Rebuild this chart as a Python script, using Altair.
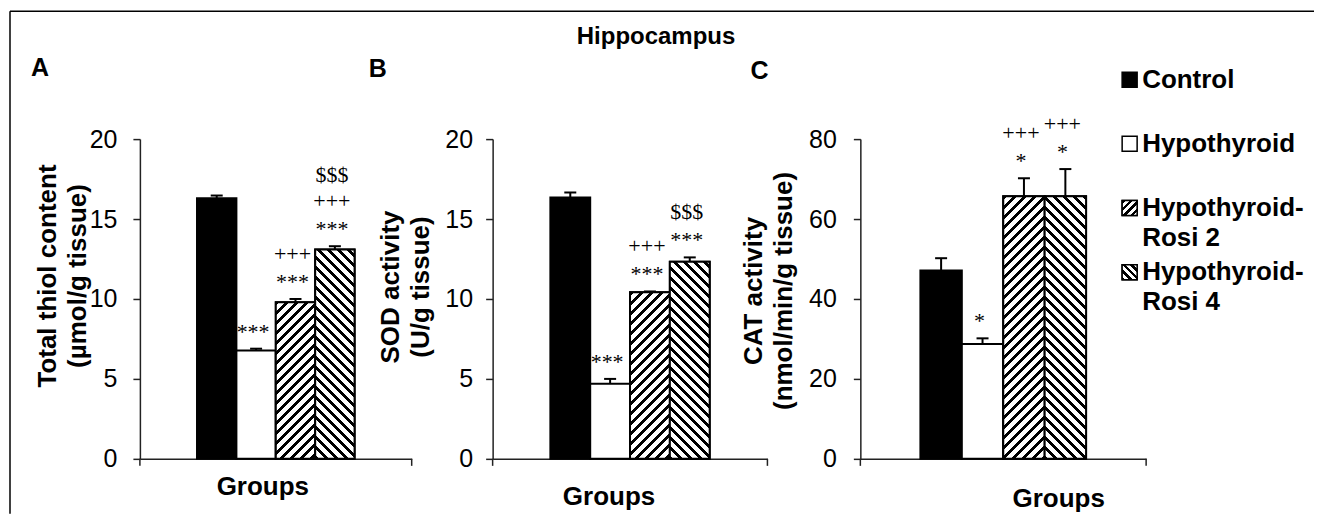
import altair as alt
import pandas as pd

# ---------------- data ----------------
groups = ["Control", "Hypothyroid", "Hypothyroid-Rosi 2", "Hypothyroid-Rosi 4"]

thiol_mean = [16.3, 6.77, 9.8, 13.1]
thiol_sem = [0.17, 0.12, 0.2, 0.2]
thiol_sig1 = ["", "***", "***", "***"]
thiol_sig2 = ["", "", "+++", "+++"]
thiol_sig3 = ["", "", "", "$$$"]

sod_mean = [16.35, 4.69, 10.42, 12.33]
sod_sem = [0.31, 0.31, 0.05, 0.27]
sod_sig1 = ["", "***", "***", "***"]
sod_sig2 = ["", "", "+++", "$$$"]
sod_sig3 = ["", "", "", ""]

cat_mean = [47.1, 28.75, 65.7, 65.7]
cat_sem = [3.1, 1.4, 4.5, 6.8]
cat_sig1 = ["", "*", "*", "*"]
cat_sig2 = ["", "", "+++", "+++"]
cat_sig3 = ["", "", "", ""]

ticks_thiol = [0, 5, 10, 15, 20]
ticks_sod = [0, 5, 10, 15, 20]
ticks_cat = [0, 20, 40, 60, 80]

legend_line1 = ["Control", "Hypothyroid", "Hypothyroid-", "Hypothyroid-"]
legend_line2 = ["", "", "Rosi 2", "Rosi 4"]

# ---------------- style ----------------
SANS = "Liberation Sans"
SERIF = "Liberation Serif"
PH = 320
PAD_OUTER = 0.45
FILLS = ["black", "white", "white", "white"]
ANN_DY = [-10, -38, -64]
X_DOMAIN = ["_left"] + groups + ["_right"]   # empty slots keep the bars centred


def hatch(w, h, direction, period=10.0, black=4.0):
    L = w + h
    s = L / (w * w + h * h)
    if direction == "/":
        x1, y1, x2, y2 = 0.0, 0.0, s * w, s * h
    else:
        x1, y1, x2, y2 = 0.0, 1.0, s * w, 1.0 - s * h
    stops = []
    pos = 0.0
    while pos < L - 1e-9:
        a = pos / L
        b = min((pos + black) / L, 1.0)
        c = min((pos + period) / L, 1.0)
        stops += [
            alt.GradientStop(color="black", offset=a),
            alt.GradientStop(color="black", offset=b),
            alt.GradientStop(color="white", offset=b),
            alt.GradientStop(color="white", offset=c),
        ]
        pos += period
    return alt.LinearGradient(gradient="linear", stops=stops, x1=x1, y1=y1, x2=x2, y2=y2)


deco = alt.Chart(pd.DataFrame({"k": [0]}))


def letter(txt, x, y, size=25):
    return deco.mark_text(text=txt, font=SANS, fontSize=size, fontWeight="bold",
                          color="black", align="center", baseline="middle").encode(
        x=alt.value(x), y=alt.value(y))


def panel(mean, sem, sigs, ticks, ytitle, pw, ytitle_xy, groups_xy, label_pad):
    ymax = ticks[-1]
    df = pd.DataFrame({
        "group": groups, "mean": mean, "sem": sem,
        "top": [m + e for m, e in zip(mean, sem)],
        "s1": sigs[0], "s2": sigs[1], "s3": sigs[2],
    })
    base = alt.Chart(df)
    xscale = alt.Scale(domain=X_DOMAIN, paddingInner=0, paddingOuter=PAD_OUTER)
    yscale = alt.Scale(domain=[0, ymax], nice=False)
    x_axis = alt.Axis(title="Groups", labels=False, ticks=False,
                      titleX=groups_xy[0], titleY=groups_xy[1],
                      titleBaseline="middle", titleAlign="center",
                      titleFontSize=26)
    y_axis = alt.Axis(values=ticks, title=ytitle, grid=False,
                      titleX=ytitle_xy[0], titleY=ytitle_xy[1],
                      titleBaseline="alphabetic", titleAlign="center",
                      titleLineHeight=30, titleFontSize=26,
                      labelPadding=label_pad)
    x = alt.X("group:N", sort=X_DOMAIN, scale=xscale, axis=x_axis)

    def y(field):
        return alt.Y(f"{field}:Q", scale=yscale, axis=y_axis)

    layers = []
    layers.append(base.mark_bar(stroke="black", strokeWidth=2).encode(
        x=x, y=y("mean"),
        fill=alt.Fill("group:N", scale=alt.Scale(domain=groups, range=FILLS), legend=None)))
    bw = pw / (len(X_DOMAIN) + 2 * PAD_OUTER)
    for i, d in [(2, "/"), (3, "\\")]:
        h = mean[i] / ymax * PH
        layers.append(base.transform_filter(alt.datum.group == groups[i]).mark_bar(
            fill=hatch(bw, h, d), stroke="black", strokeWidth=2).encode(
            x=x, y=y("mean")))
    layers.append(base.mark_rule(color="black", strokeWidth=2).encode(
        x=x, y=y("mean"), y2="top:Q"))
    layers.append(base.mark_tick(orient="horizontal", color="black", thickness=2,
                                 size=12, opacity=1).encode(x=x, y=y("top")))
    for j in range(3):
        col = f"s{j + 1}"
        layers.append(base.transform_filter(f"datum.{col} != ''").mark_text(
            font=SERIF, fontSize=22, baseline="alphabetic", align="center",
            dx=-3, dy=ANN_DY[j], color="black").encode(
            x=x, y=y("top"), text=f"{col}:N"))
    # category-edge ticks of the x axis
    for xv in (0, pw):
        layers.append(deco.mark_rule(color="#222", strokeWidth=1.5).encode(
            x=alt.value(xv), y=alt.value(PH), y2=alt.value(PH + 7)))
    return layers


# ---------------- panel A ----------------
WA, WB, WC = 272, 275, 286
layersA = panel(thiol_mean, thiol_sem, [thiol_sig1, thiol_sig2, thiol_sig3], ticks_thiol,
                ["Total thiol content", "(µmol/g tissue)"], WA, (-84, 136.5), (122.5, 28), 16)
layersA.append(letter("A", -100, -71.5))
# outer frame
layersA.append(deco.mark_rule(color="black", strokeWidth=1.5).encode(
    x=alt.value(-130), y=alt.value(-128), y2=alt.value(375)))
layersA.append(deco.mark_rule(color="black", strokeWidth=1.5).encode(
    x=alt.value(-130), x2=alt.value(1175), y=alt.value(-128)))
chartA = alt.layer(*layersA).properties(width=WA, height=PH)

# ---------------- panel B ----------------
layersB = panel(sod_mean, sod_sem, [sod_sig1, sod_sig2, sod_sig3], ticks_sod,
                ["SOD activity", "(U/g tissue)"], WB, (-94, 147.5), (116, 38), 13)
layersB.append(letter("B", -115, -70.5))
layersB.append(letter("Hippocampus", 163.5, -101.8, size=24))
chartB = alt.layer(*layersB).properties(width=WB, height=PH)

# ---------------- panel C + legend ----------------
layersC = panel(cat_mean, cat_sem, [cat_sig1, cat_sig2, cat_sig3], ticks_cat,
                ["CAT activity", "(nmol/min/g tissue)"], WC, (-99, 151.5), (198, 39.5), 17)
layersC.append(letter("C", -101, -68.5))
innerC = alt.layer(*layersC)

leg_df = pd.DataFrame({"group": groups, "line1": legend_line1, "line2": legend_line2})
leg = alt.Chart(leg_df)
leg_y = alt.Y("group:N", sort=groups,
              scale=alt.Scale(type="point", domain=groups, range=[-59.5, 133.2], padding=0),
              axis=None)
SQ = 15
leg_layers = [
    leg.mark_square(size=SQ * SQ, stroke="black", strokeWidth=1.5, opacity=1).encode(
        x=alt.value(269.5), y=leg_y,
        fill=alt.Fill("group:N", scale=alt.Scale(domain=groups, range=FILLS), legend=None)),
]
for i, d in [(2, "/"), (3, "\\")]:
    leg_layers.append(leg.transform_filter(alt.datum.group == groups[i]).mark_square(
        size=SQ * SQ, fill=hatch(SQ, SQ, d, period=7.5, black=3.5), stroke="black",
        strokeWidth=1.5, opacity=1).encode(x=alt.value(269.5), y=leg_y))
leg_layers.append(leg.mark_text(align="left", baseline="middle", font=SANS, fontSize=26,
                                fontWeight="bold", color="black").encode(
    x=alt.value(282), y=leg_y, text="line1:N"))
leg_layers.append(leg.transform_filter("datum.line2 != ''").mark_text(
    align="left", baseline="middle", font=SANS, fontSize=26, fontWeight="bold",
    color="black", dy=30).encode(x=alt.value(282), y=leg_y, text="line2:N"))
legendC = alt.layer(*leg_layers)

chartC = alt.layer(innerC, legendC).resolve_scale(y="independent").properties(width=WC, height=PH)


def spacer(w):
    return deco.mark_point(opacity=0).properties(width=w, height=PH)


chart = alt.hconcat(chartA, spacer(81), chartB, spacer(93), chartC,
                    spacing=0, bounds="flush").properties(
    padding={"left": 1, "top": 2, "right": 0, "bottom": 0},
    background="white",
).configure_view(stroke=None).configure_axis(
    domainColor="#222", domainWidth=1.5, tickColor="#222", tickWidth=1.5, tickSize=7,
    labelFont=SANS, labelFontSize=25, labelColor="black",
    titleFont=SANS, titleFontWeight="bold", titleColor="black",
)

chart.save("out.html", embed_options={"renderer": "svg", "actions": False})
